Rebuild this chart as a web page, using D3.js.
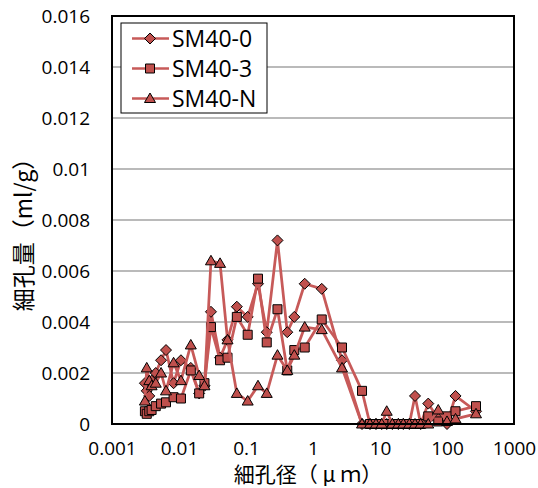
<!DOCTYPE html>
<html>
<head>
<meta charset="utf-8">
<script src="https://cdn.jsdelivr.net/npm/d3@7"></script>
<style>
  body { margin: 0; background: #fff; }
  svg { display: block; }
</style>
</head>
<body>
<script>
// pore diameter (µm), shared by all three series
var diameters = [0.0031, 0.0033, 0.0036, 0.0039, 0.0045, 0.0054, 0.0064, 0.0083, 0.0107, 0.015,
    0.020, 0.024, 0.030, 0.041, 0.053, 0.073, 0.106, 0.151, 0.204, 0.295,
    0.413, 0.526, 0.752, 1.35, 2.71, 5.39, 7.09, 8.71, 10.6, 12.6,
    15.3, 18.8, 22.3, 27.4, 33.3, 40.5, 52.5, 74, 100, 134, 271];

// pore volume (ml/g)
var sm40_0 = [0.0016, 0.0013, 0.0011, 0.0017, 0.0020, 0.0025, 0.0029, 0.0016, 0.0025, 0.0022,
    0.0012, 0.0015, 0.0044, 0.0026, 0.0033, 0.0046, 0.0042, 0.0055, 0.0036, 0.0072,
    0.0036, 0.0042, 0.0055, 0.0053, 0.0025, 0, 0, 0, 0, 0,
    0, 0, 0, 0, 0.0011, 0, 0.0008, 0.0002, 0, 0.0011, 0.0005];
var sm40_3 = [0.0005, 0.0004, 0.0005, 0.00055, 0.0007, 0.0008, 0.00085, 0.00105, 0.0010, 0.0021,
    0.0012, 0.0016, 0.0038, 0.0025, 0.0026, 0.0042, 0.0035, 0.0057, 0.0032, 0.0045,
    0.0021, 0.0029, 0.0030, 0.0041, 0.0030, 0.0013, 0, 0, 0, 0,
    0, 0, 0, 0, 0, 0, 0.0003, 0.0001, 0.0003, 0.0005, 0.0007];
var sm40_n = [0.0009, 0.0022, 0.0017, 0.0015, 0.0016, 0.0020, 0.0013, 0.0024, 0.0017, 0.0031,
    0.0019, 0.0015, 0.0064, 0.0063, 0.0033, 0.0012, 0.0009, 0.0015, 0.0012, 0.0027,
    0.0021, 0.0027, 0.0038, 0.0037, 0.0022, 0, 0, 0, 0, 0.0005,
    0, 0, 0, 0, 0, 0, 0, 0.00055, 0.0001, 0.0002, 0.0004];

var seriesNames = ["SM40-0", "SM40-3", "SM40-N"];
var xTicks = [0.001, 0.01, 0.1, 1, 10, 100, 1000];
var xTickLabels = ["0.001", "0.01", "0.1", "1", "10", "100", "1000"];
var yTicks = [0, 0.002, 0.004, 0.006, 0.008, 0.01, 0.012, 0.014, 0.016];
var yTickLabels = ["0", "0.002", "0.004", "0.006", "0.008", "0.01", "0.012", "0.014", "0.016"];

// Excel-like marker shapes
var diamondMark = { draw: function (ctx) { var r = 5.5; ctx.moveTo(0, -r); ctx.lineTo(r, 0); ctx.lineTo(0, r); ctx.lineTo(-r, 0); ctx.closePath(); } };
var squareMark = { draw: function (ctx) { var r = 4.5; ctx.rect(-r, -r, 2 * r, 2 * r); } };
var triangleMark = { draw: function (ctx) { ctx.moveTo(0, -5.5); ctx.lineTo(5.5, 4); ctx.lineTo(-5.5, 4); ctx.closePath(); } };
var seriesSymbols = [diamondMark, squareMark, triangleMark];

function init() {
    var w = 538, h = 488;
    var plotLeft = 112, plotRight = 514, plotTop = 16, plotBottom = 424;
    var lineColor = "#c75a59";
    var markColor = "#c0504d";

    var svg = d3.select("body").append("svg")
        .attr("width", w)
        .attr("height", h);

    var x = d3.scaleLog().domain([0.001, 1000]).range([plotLeft, plotRight]);
    var y = d3.scaleLinear().domain([0, 0.016]).range([plotBottom, plotTop]);

    // gridlines
    svg.append("g")
        .selectAll("line")
        .data(yTicks.slice(1, -1))
        .enter()
        .append("line")
        .attr("x1", plotLeft)
        .attr("x2", plotRight)
        .attr("y1", function (d) { return y(d); })
        .attr("y2", function (d) { return y(d); })
        .attr("stroke", "#a3a3a3")
        .attr("stroke-width", 1.5);

    // y tick labels
    var yAxis = d3.axisLeft(y)
        .tickValues(yTicks)
        .tickSize(0)
        .tickPadding(22)
        .tickFormat(function (d, i) { return yTickLabels[i]; });
    svg.append("g")
        .attr("transform", "translate(" + plotLeft + ",0)")
        .call(yAxis)
        .call(function (g) { g.select(".domain").remove(); })
        .selectAll("text")
        .attr("font-family", "'Open Sans', sans-serif")
        .attr("font-size", 19)
        .attr("fill", "#000");

    // x tick labels
    var xAxis = d3.axisBottom(x)
        .tickValues(xTicks)
        .tickSize(0)
        .tickPadding(18)
        .tickFormat(function (d, i) { return xTickLabels[i]; });
    svg.append("g")
        .attr("transform", "translate(0," + plotBottom + ")")
        .call(xAxis)
        .call(function (g) { g.select(".domain").remove(); })
        .selectAll("text")
        .attr("font-family", "'Open Sans', sans-serif")
        .attr("font-size", 19)
        .attr("fill", "#000");

    // series: line first, then markers on top
    var allSeries = [sm40_0, sm40_3, sm40_n];
    var line = d3.line()
        .x(function (d) { return x(d[0]); })
        .y(function (d) { return y(d[1]); });

    allSeries.forEach(function (vals, k) {
        var pts = diameters.map(function (d, i) { return [d, vals[i]]; });
        var g = svg.append("g");
        g.append("path")
            .datum(pts)
            .attr("d", line)
            .attr("fill", "none")
            .attr("stroke", lineColor)
            .attr("stroke-width", 2.75)
            .attr("stroke-linejoin", "round");
        g.selectAll("path.mark")
            .data(pts)
            .enter()
            .append("path")
            .attr("class", "mark")
            .attr("d", d3.symbol().type(seriesSymbols[k]))
            .attr("transform", function (d) {
                return "translate(" + x(d[0]) + "," + y(d[1]) + ")";
            })
            .attr("fill", markColor)
            .attr("stroke", "#000")
            .attr("stroke-width", 1);
    });

    // plot border
    svg.append("rect")
        .attr("x", plotLeft)
        .attr("y", plotTop)
        .attr("width", plotRight - plotLeft)
        .attr("height", plotBottom - plotTop)
        .attr("fill", "none")
        .attr("stroke", "#000")
        .attr("stroke-width", 2);

    // legend
    var legend = svg.append("g");
    legend.append("rect")
        .attr("x", 121)
        .attr("y", 23)
        .attr("width", 146)
        .attr("height", 90)
        .attr("fill", "#fff")
        .attr("stroke", "#000")
        .attr("stroke-width", 1);
    seriesNames.forEach(function (name, k) {
        var ly = 38.5 + k * 30;
        legend.append("line")
            .attr("x1", 132).attr("x2", 169)
            .attr("y1", ly).attr("y2", ly)
            .attr("stroke", lineColor)
            .attr("stroke-width", 2.5);
        legend.append("path")
            .attr("d", d3.symbol().type(seriesSymbols[k]))
            .attr("transform", "translate(150," + ly + ")")
            .attr("fill", markColor)
            .attr("stroke", "#000")
            .attr("stroke-width", 1);
        legend.append("text")
            .attr("x", 172)
            .attr("y", ly)
            .attr("dy", "0.35em")
            .attr("font-family", "'Open Sans', sans-serif")
            .attr("font-size", 23)
            .text(name);
    });

    // axis titles
    svg.append("text")
        .attr("x", 308)
        .attr("y", 475)
        .attr("dy", "0.35em")
        .attr("text-anchor", "middle")
        .attr("font-family", "'Noto Sans CJK JP', sans-serif")
        .attr("font-size", 21)
        .text("細孔径（ μ ｍ）");

    svg.append("text")
        .attr("transform", "translate(24,229) rotate(-90)")
        .attr("dy", "0.35em")
        .attr("text-anchor", "middle")
        .attr("font-family", "'Noto Sans CJK JP', sans-serif")
        .attr("font-size", 23)
        .text("細孔量（ml/g）");
}
window.onload = init;
</script>
</body>
</html>
